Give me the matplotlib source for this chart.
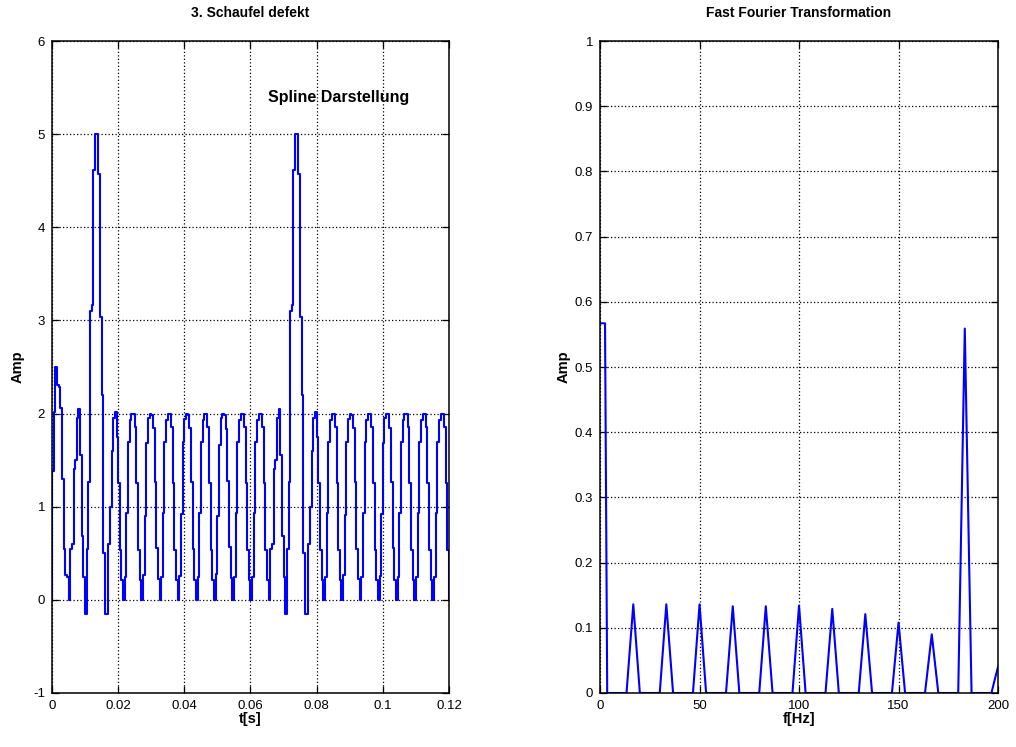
import numpy as np
import matplotlib
matplotlib.use("Agg")
import matplotlib.pyplot as plt

plt.rcParams["font.family"] = ["Liberation Sans", "DejaVu Sans"]
plt.rcParams["axes.unicode_minus"] = False

# --- left: blade signal, one sample every 0.5 ms, one row = one blade pass (11 samples)
dt = 0.0005
start_amp = 0.0
amp_rows = [
    [1.38, 2.02, 2.50, 2.31, 2.28, 2.06, 1.30, 0.55, 0.27, 0.25, 0.00],
    [0.55, 0.60, 1.40, 1.50, 1.95, 2.05, 1.55, 0.69, 0.25, -0.15, 0.55],
    [1.26, 3.10, 3.17, 4.62, 5.00, 5.00, 4.57, 3.04, 2.20, 0.50, -0.15],
    [-0.15, 0.60, 1.00, 1.60, 1.95, 2.02, 1.75, 1.25, 0.54, 0.21, 0.00],
    [0.25, 0.93, 1.70, 1.93, 2.00, 2.00, 1.86, 1.25, 0.54, 0.21, 0.00],
    [0.27, 0.90, 1.68, 1.95, 2.00, 1.98, 1.84, 1.27, 0.56, 0.22, 0.00],
    [0.25, 0.93, 1.70, 1.93, 2.00, 2.00, 1.86, 1.25, 0.54, 0.21, 0.00],
    [0.26, 0.92, 1.70, 1.94, 2.00, 1.99, 1.85, 1.26, 0.55, 0.21, 0.00],
    [0.25, 0.93, 1.70, 1.93, 2.00, 2.00, 1.86, 1.25, 0.54, 0.21, 0.00],
    [0.28, 0.90, 1.66, 1.95, 2.00, 1.99, 1.83, 1.28, 0.57, 0.23, 0.00],
    [0.25, 0.93, 1.70, 1.93, 2.00, 2.00, 1.86, 1.25, 0.54, 0.21, 0.00],
    [0.25, 0.93, 1.70, 1.93, 2.00, 2.00, 1.86, 1.25, 0.54, 0.21, 0.00],
    [0.55, 0.60, 1.40, 1.50, 1.95, 2.05, 1.55, 0.69, 0.25, -0.15, 0.55],
    [1.26, 3.10, 3.17, 4.62, 5.00, 5.00, 4.57, 3.04, 2.20, 0.50, -0.15],
    [-0.15, 0.60, 1.00, 1.60, 1.95, 2.02, 1.75, 1.25, 0.54, 0.21, 0.00],
    [0.25, 0.93, 1.70, 1.93, 2.00, 2.00, 1.86, 1.25, 0.54, 0.21, 0.00],
    [0.27, 0.91, 1.69, 1.94, 2.00, 1.99, 1.85, 1.26, 0.55, 0.22, 0.00],
    [0.25, 0.93, 1.70, 1.93, 2.00, 2.00, 1.86, 1.25, 0.54, 0.21, 0.00],
    [0.26, 0.92, 1.68, 1.95, 2.00, 2.00, 1.84, 1.27, 0.56, 0.21, 0.00],
    [0.25, 0.93, 1.70, 1.93, 2.00, 2.00, 1.86, 1.25, 0.54, 0.21, 0.00],
    [0.25, 0.93, 1.70, 1.93, 2.00, 2.00, 1.86, 1.25, 0.54, 0.21, 0.00],
    [0.25, 0.93, 1.70, 1.93, 2.00, 2.00, 1.86, 1.25, 0.54, 0.00],
]
t_ticks = [0, 0.02, 0.04, 0.06, 0.08, 0.1, 0.12]
t_ticklabels = ["0", "0.02", "0.04", "0.06", "0.08", "0.1", "0.12"]
amp_ticks = [-1, 0, 1, 2, 3, 4, 5, 6]

# --- right: spectrum
freq = [0, 2.5, 3.6, 13.3, 16.7, 20.0, 30.0, 33.3, 36.7, 46.7, 50.0, 53.3,
        63.3, 66.7, 70.0, 80.0, 83.3, 86.7, 96.7, 100.0, 103.3, 113.3, 116.7,
        120.0, 130.0, 133.3, 136.7, 146.7, 150.0, 153.3, 163.3, 166.7, 170.0,
        180.0, 183.3, 186.7, 196.7, 198.3, 200.0]
fft_amp = [0.567, 0.567, 0, 0, 0.136, 0, 0, 0.136, 0, 0, 0.136, 0,
           0, 0.133, 0, 0, 0.133, 0, 0, 0.134, 0, 0, 0.129,
           0, 0, 0.121, 0, 0, 0.108, 0, 0, 0.090, 0,
           0, 0.559, 0, 0, 0.02, 0.04]
f_ticks = [0, 50, 100, 150, 200]
fft_ticks = [0, 0.1, 0.2, 0.3, 0.4, 0.5, 0.6, 0.7, 0.8, 0.9, 1]
fft_ticklabels = ["0", "0.1", "0.2", "0.3", "0.4", "0.5", "0.6", "0.7", "0.8", "0.9", "1"]


def style(ax):
    ax.grid(True, color="k", linestyle=(0, (1, 1.8)), linewidth=0.9)
    ax.set_axisbelow(True)
    ax.tick_params(direction="in", top=True, right=True, length=5, width=0.9,
                   labelsize=9.5, pad=5)
    for s in ax.spines.values():
        s.set_linewidth(1.1)


amp = np.array([start_amp] + [v for row in amp_rows for v in row])
t = np.arange(len(amp)) * dt

fig = plt.figure(figsize=(10.16, 7.47), dpi=100)

ax1 = fig.add_axes([0.0512, 0.0723, 0.3907, 0.8728])
ax1.plot(t, amp, color="#0000ff", linewidth=1.5, drawstyle="steps-pre")
ax1.set_xlim(0, 0.12); ax1.set_ylim(-1, 6)
ax1.set_xticks(t_ticks, t_ticklabels); ax1.set_yticks(amp_ticks)
style(ax1)
ax1.set_title("3. Schaufel defekt", fontsize=10, fontweight="bold", pad=17)
ax1.set_xlabel("t[s]", fontsize=10.5, fontweight="bold")
ax1.set_ylabel("Amp", fontsize=10.5, fontweight="bold")
ax1.xaxis.set_label_coords(0.5, -0.029)
ax1.yaxis.set_label_coords(-0.07, 0.5)
ax1.text(0.0653, 5.39, "Spline Darstellung", fontsize=11.5, fontweight="bold",
         va="center", ha="left")

ax2 = fig.add_axes([0.5906, 0.0723, 0.3917, 0.8728])
ax2.plot(freq, fft_amp, color="#0000ff", linewidth=1.5)
ax2.set_xlim(0, 200); ax2.set_ylim(0, 1)
ax2.set_xticks(f_ticks); ax2.set_yticks(fft_ticks, fft_ticklabels)
style(ax2)
ax2.set_title("Fast Fourier Transformation", fontsize=10, fontweight="bold", pad=17)
ax2.set_xlabel("f[Hz]", fontsize=10.5, fontweight="bold")
ax2.set_ylabel("Amp", fontsize=10.5, fontweight="bold")
ax2.xaxis.set_label_coords(0.5, -0.029)
ax2.yaxis.set_label_coords(-0.073, 0.5)

fig.savefig("out.png", dpi=100)
